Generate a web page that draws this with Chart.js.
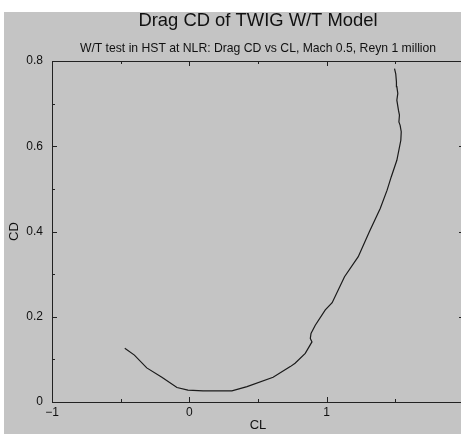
<!DOCTYPE html>
<html>
<head>
<meta charset="utf-8">
<script src="https://cdn.jsdelivr.net/npm/chart.js@4"></script>
<style>
  html, body { margin: 0; padding: 0; background: #fff; overflow: hidden; width: 461px; height: 434px; }
  #box { position: absolute; left: 4px; top: 12px; width: 470px; height: 422px; background: #c4c4c4; overflow: hidden; }
</style>
</head>
<body>
<div id="box"><canvas id="grafico" width="470" height="422"></canvas></div>
<script>
// dados
const cl = [-0.47, -0.40, -0.31, -0.20, -0.09, -0.01, 0.10, 0.31, 0.42, 0.61, 0.735, 0.77, 0.844,
            0.893, 0.881, 0.886, 0.917, 0.99, 1.04, 1.13, 1.23, 1.31, 1.39, 1.44, 1.47, 1.511,
            1.54, 1.543, 1.535, 1.526, 1.53, 1.523, 1.511, 1.518, 1.511, 1.508, 1.503, 1.494];
const cd = [0.126, 0.110, 0.080, 0.058, 0.034, 0.028, 0.026, 0.026, 0.036, 0.058, 0.083, 0.091, 0.114,
            0.141, 0.149, 0.161, 0.180, 0.216, 0.233, 0.294, 0.341, 0.399, 0.454, 0.497, 0.528, 0.567,
            0.614, 0.634, 0.649, 0.657, 0.673, 0.684, 0.708, 0.724, 0.740, 0.751, 0.770, 0.782];
const xTicks = [-1, -0.5, 0, 0.5, 1, 1.5, 2];
const yTicks = [0, 0.1, 0.2, 0.3, 0.4, 0.5, 0.6, 0.7, 0.8];

const titulo = 'Drag CD of TWIG W/T Model';
const subtitulo = 'W/T test in HST at NLR: Drag CD vs CL, Mach 0.5, Reyn 1 million';
const fonte = "'Liberation Sans', Arial, Helvetica, sans-serif";

const pontos = cl.map((x, i) => ({ x: x, y: cd[i] }));

const moldura = {
  id: 'moldura',
  afterDraw: (chart) => {
    const { ctx, chartArea: a, scales } = chart;
    ctx.save();
    ctx.strokeStyle = '#222';
    ctx.lineWidth = 1;
    // linha de cima
    ctx.beginPath();
    ctx.moveTo(a.left, a.top + 0.5);
    ctx.lineTo(a.right, a.top + 0.5);
    ctx.stroke();
    // marcas para dentro
    ctx.beginPath();
    xTicks.forEach(v => {
      const px = Math.round(scales.x.getPixelForValue(v)) + 0.5;
      const len = Number.isInteger(v) ? 5 : 3;
      ctx.moveTo(px, a.bottom); ctx.lineTo(px, a.bottom - len);
      ctx.moveTo(px, a.top); ctx.lineTo(px, a.top + len);
    });
    yTicks.forEach(v => {
      const py = Math.round(scales.y.getPixelForValue(v)) + 0.5;
      const len = Math.round(v * 10) % 2 === 0 ? 5 : 3;
      ctx.moveTo(a.left, py); ctx.lineTo(a.left + len, py);
      ctx.moveTo(a.right, py); ctx.lineTo(a.right - len, py);
    });
    ctx.stroke();

    // titulos
    const cx = (a.left + a.right) / 2;
    ctx.fillStyle = '#111';
    ctx.textAlign = 'center';
    ctx.textBaseline = 'alphabetic';
    ctx.font = '18.4px ' + fonte;
    ctx.fillText(titulo, cx, 14);
    ctx.font = '12.2px ' + fonte;
    ctx.fillText(subtitulo, cx, 39.5);
    ctx.font = '13px ' + fonte;
    ctx.textBaseline = 'middle';
    ctx.fillText('CL', cx, 413);
    ctx.translate(10, (a.top + a.bottom) / 2);
    ctx.rotate(-Math.PI / 2);
    ctx.fillText('CD', 0, 0);
    ctx.restore();
  }
};

new Chart(document.getElementById('grafico'), {
  type: 'scatter',
  data: {
    datasets: [{
      data: pontos,
      showLine: true,
      borderColor: '#1a1a1a',
      borderWidth: 1.2,
      pointRadius: 0,
      tension: 0
    }]
  },
  options: {
    responsive: false,
    animation: false,
    layout: { padding: { top: 49, right: 10, left: 0, bottom: 0 } },
    plugins: { legend: { display: false }, tooltip: { enabled: false } },
    scales: {
      x: {
        type: 'linear', min: -1, max: 2,
        afterFit: (s) => { s.height = 32; },
        grid: { display: false, drawTicks: false },
        border: { display: true, color: '#222', width: 1 },
        ticks: {
          stepSize: 1, padding: 3, color: '#111', maxRotation: 0,
          font: { family: fonte, size: 12 },
          callback: (v) => v === 2 ? '' : (v < 0 ? '\u2212' + Math.abs(v) : String(v))
        }
      },
      y: {
        type: 'linear', min: 0, max: 0.8,
        afterFit: (s) => { s.width = 48; },
        grid: { display: false, drawTicks: false },
        border: { display: true, color: '#222', width: 1 },
        ticks: {
          stepSize: 0.2, padding: 9, color: '#111',
          font: { family: fonte, size: 12 },
          callback: (v) => v === 0 ? '0' : v.toFixed(1)
        }
      }
    }
  },
  plugins: [moldura]
});
</script>
</body>
</html>
